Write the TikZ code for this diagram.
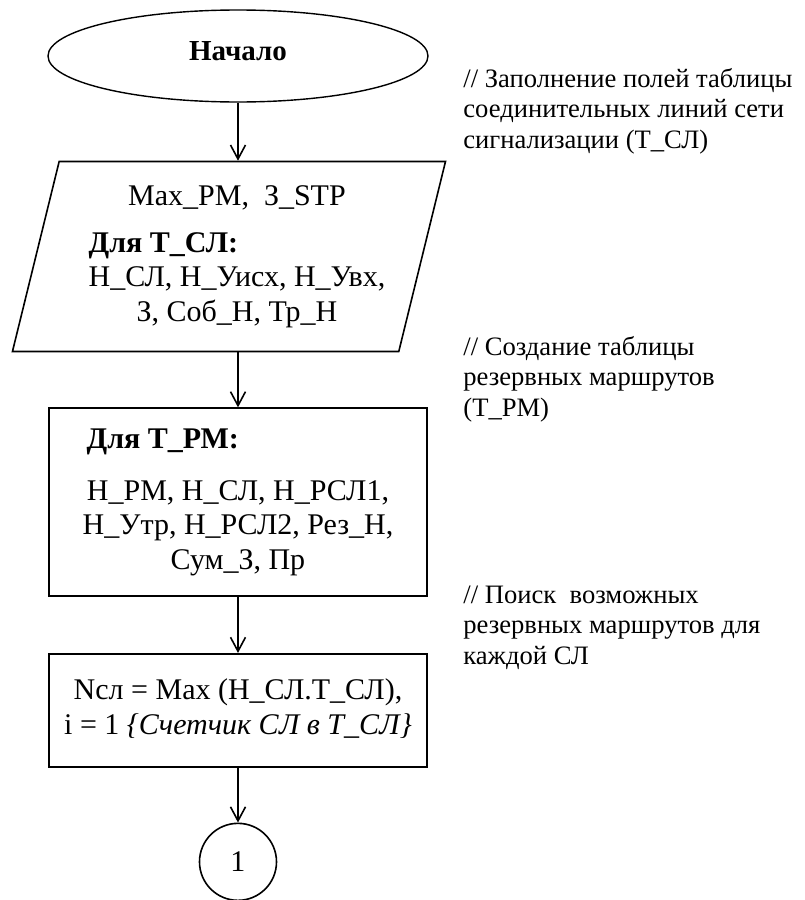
\documentclass[tikz,border=0pt]{standalone}
\usepackage{fontspec}
\setmainfont{Liberation Serif}
\usetikzlibrary{positioning, arrows.meta, shapes.geometric}
\newcommand{\blockfont}{\fontsize{15}{17.25}\selectfont}

\begin{document}
\begin{tikzpicture}[
    startstop/.style={draw, ellipse, line width=0.7pt, minimum width=190pt,
                      minimum height=46pt, inner sep=0pt, text depth=5pt,
                      font=\fontsize{14.5}{17}\selectfont\bfseries},
    io/.style={draw, trapezium, trapezium left angle=74, trapezium right angle=106,
               trapezium stretches=true, line width=0.8pt, minimum width=217pt,
               minimum height=95pt, inner sep=0pt, font=\blockfont},
    process/.style={draw, rectangle, line width=0.8pt, minimum width=189pt,
                    inner sep=0pt, font=\blockfont},
    conn/.style={draw, circle, line width=0.8pt, minimum size=38.5pt,
                 inner sep=0pt, font=\blockfont},
    note/.style={align=left, inner sep=0pt, anchor=base west,
                 font=\fontsize{13.3}{15.25}\selectfont},
    arr/.style={-{Straight Barb[length=7pt, width=7.5pt]}, line width=0.8pt}
  ]
    \useasboundingbox (-119pt,28pt) rectangle (283pt,-422pt);
    % Blocks
    \node[startstop] (start) {Начало};
    \node[io, below=29pt of start, xshift=-4.5pt] (data) {%
      \begin{tabular}{@{\hspace{8pt}}c@{}}
        Max\_PM,\ \ З\_STP\\[6pt]
        \multicolumn{1}{@{\hspace{8pt}}l@{}}{\textbf{Для Т\_СЛ:}}\\
        Н\_СЛ, Н\_Уисх, Н\_Увх,\\
        З, Соб\_Н, Тр\_Н
      \end{tabular}};
    \node[process, below=27.5pt of data, xshift=4.5pt, minimum height=94pt] (tables) {%
      \begin{tabular}{@{}c@{}}
        \multicolumn{1}{@{\hspace{2pt}}l@{}}{\textbf{Для Т\_РМ:}}\\[8.5pt]
        Н\_РМ, Н\_СЛ, Н\_РСЛ1,\\
        Н\_Утр, Н\_РСЛ2, Рез\_Н,\\
        Сум\_З, Пр
      \end{tabular}};
    \node[process, below=28pt of tables, minimum height=56.5pt] (calc) {%
      \begin{tabular}{@{}c@{}}
        Nсл = Max (Н\_СЛ.Т\_СЛ),\\
        i = 1 \textit{\{Счетчик СЛ в Т\_СЛ\}}
      \end{tabular}};
    \node[conn, below=27.5pt of calc] (c1) {1};
    % Arrows
    \draw[arr] (start.south) -- (start.south |- data.north);
    \draw[arr] (data.south -| tables.north) -- (tables.north);
    \draw[arr] (tables) -- (calc);
    \draw[arr] (calc) -- (c1);
    % Comments
    \node[note] (note1) at (112.5pt,-46pt) {// Заполнение полей таблицы\\
      соединительных линий сети\\ сигнализации (Т\_СЛ)};
    \node[note] (note2) at (112.5pt,-180pt) {// Создание таблицы\\
      резервных маршрутов\\ (Т\_РМ)};
    \node[note] (note3) at (112.5pt,-304pt) {// Поиск\ \ возможных\\
      резервных маршрутов для\\ каждой СЛ};
  \end{tikzpicture}
\end{document}
